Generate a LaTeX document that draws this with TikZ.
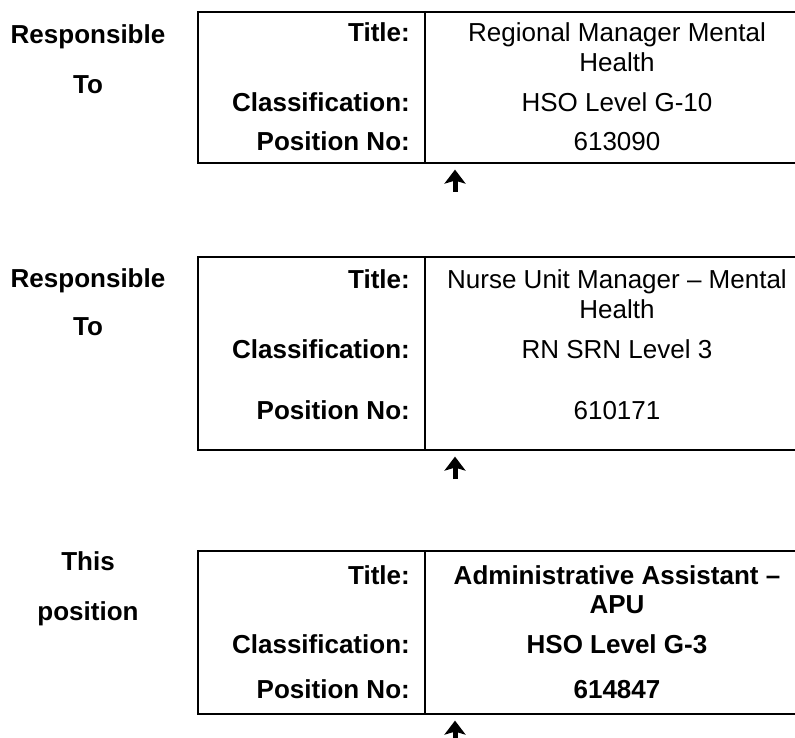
\documentclass[tikz,border=0pt]{standalone}
\usepackage{fontspec}
\setmainfont{Liberation Sans}
\usetikzlibrary{arrows.meta, positioning, calc}

\begin{document}
\begin{tikzpicture}[x=1pt, y=-1pt, >=Stealth,
    frame/.style={draw, line width=1.6pt, anchor=north west, inner sep=0pt, minimum width=640pt},
    divider/.style={line width=1.6pt},
    lbl/.style={font=\fontsize{26}{30}\selectfont\bfseries, anchor=base east, inner sep=0pt},
    val/.style={font=\fontsize{26}{30}\selectfont, anchor=base, inner sep=0pt},
    bval/.style={val, font=\fontsize{26}{30}\selectfont\bfseries},
    side/.style={font=\fontsize{26}{30}\selectfont\bfseries, anchor=base, inner sep=0pt},
    uparrow/.style={line width=5pt, -{Stealth[length=14pt, width=21pt, inset=3pt]}}]
    \clip (0,0) rectangle (795,738);
    % Regional manager box
    \node [side] (resp1) at (88,44) {Responsible};
    \node [side] (to1) at (88,94) {To};
    \node [frame, minimum height=151pt] (box1) at (197,11) {};
    \draw [divider] ($(box1.north west)+(228,0)$) -- ($(box1.south west)+(228,0)$);
    \node [lbl] (title1) at (410,42) {Title:};
    \node [val] (tval1) at (617,42) {Regional Manager Mental};
    \node [val] (tval1b) at (617,72) {Health};
    \node [lbl] (class1) at (410,112) {Classification:};
    \node [val] (cval1) at (617,112) {HSO Level G-10};
    \node [lbl] (pos1) at (410,151) {Position No:};
    \node [val] (pval1) at (617,151) {613090};
    \coordinate (a1) at (455,192);
    \draw [uparrow] (a1) -- ($(a1 |- box1.south)+(0,6)$);
    % Nurse unit manager box
    \node [side] (resp2) at (88,287) {Responsible};
    \node [side] (to2) at (88,335) {To};
    \node [frame, minimum height=193pt] (box2) at (197,256) {};
    \draw [divider] ($(box2.north west)+(228,0)$) -- ($(box2.south west)+(228,0)$);
    \node [lbl] (title2) at (410,288) {Title:};
    \node [val] (tval2) at (617,288) {Nurse Unit Manager – Mental};
    \node [val] (tval2b) at (617,318) {Health};
    \node [lbl] (class2) at (410,358) {Classification:};
    \node [val] (cval2) at (617,358) {RN SRN Level 3};
    \node [lbl] (pos2) at (410,419) {Position No:};
    \node [val] (pval2) at (617,419) {610171};
    \coordinate (a2) at (455,479);
    \draw [uparrow] (a2) -- ($(a2 |- box2.south)+(0,6)$);
    % This position
    \node [side] (this3) at (88,570) {This};
    \node [side] (posn3) at (88,620) {position};
    \node [frame, minimum height=163pt] (box3) at (197,550) {};
    \draw [divider] ($(box3.north west)+(228,0)$) -- ($(box3.south west)+(228,0)$);
    \node [lbl] (title3) at (410,584) {Title:};
    \node [bval] (tval3) at (617,584) {Administrative Assistant –};
    \node [bval] (tval3b) at (617,613) {APU};
    \node [lbl] (class3) at (410,653) {Classification:};
    \node [bval] (cval3) at (617,653) {HSO Level G-3};
    \node [lbl] (pos3) at (410,698) {Position No:};
    \node [bval] (pval3) at (617,698) {614847};
    \coordinate (a3) at (455,744);
    \draw [uparrow] (a3) -- ($(a3 |- box3.south)+(0,6)$);
\end{tikzpicture}
\end{document}
